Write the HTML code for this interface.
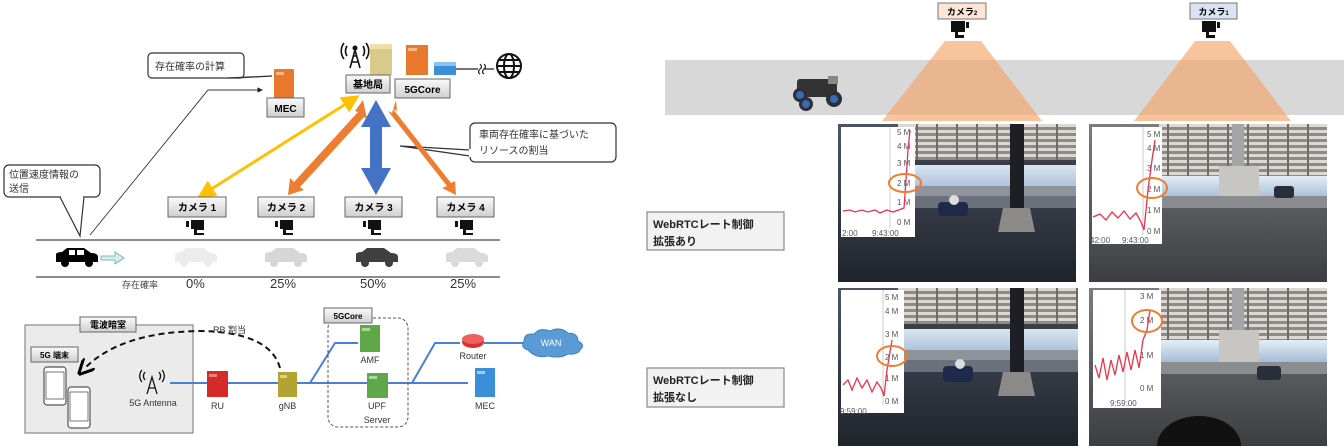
<!DOCTYPE html>
<html><head><meta charset="utf-8"><style>
html,body{margin:0;padding:0;background:#fff;width:1344px;height:447px;overflow:hidden;}
svg{display:block;}
svg text{font-family:"Liberation Sans","Noto Sans CJK JP",sans-serif;}
</style></head><body>
<svg width="1344" height="447" viewBox="0 0 1344 447" xmlns="http://www.w3.org/2000/svg">
<defs>
<linearGradient id="bx" x1="0" y1="0" x2="0" y2="1"><stop offset="0" stop-color="#fafafa"/><stop offset="1" stop-color="#cfcfcf"/></linearGradient>
<linearGradient id="gnd" x1="0" y1="0" x2="0" y2="1"><stop offset="0" stop-color="#4d5564"/><stop offset="1" stop-color="#1f232b"/></linearGradient>
<linearGradient id="gnd2" x1="0" y1="0" x2="0" y2="1"><stop offset="0" stop-color="#7a7c80"/><stop offset="1" stop-color="#3c3d40"/></linearGradient>
<linearGradient id="sky" x1="0" y1="0" x2="0" y2="1"><stop offset="0" stop-color="#e4edf6"/><stop offset="1" stop-color="#a6bdd6"/></linearGradient>
<pattern id="lv" width="20" height="6" patternUnits="userSpaceOnUse"><rect width="20" height="6" fill="#8d8a88"/><rect width="20" height="3" fill="#dcd8d3"/><rect x="18" width="2" height="6" fill="#6e6b68"/></pattern>
<marker id="ay" markerWidth="6" markerHeight="6" refX="3" refY="3" orient="auto-start-reverse"><path d="M0,0L6,3L0,6z" fill="#ffc000"/></marker>
<marker id="dk" markerWidth="8" markerHeight="8" refX="4" refY="4" orient="auto"><path d="M0,0L8,4L0,8" fill="none" stroke="#000" stroke-width="1.5"/></marker>
<marker id="sm" markerWidth="6" markerHeight="6" refX="5" refY="3" orient="auto"><path d="M0,0L6,3L0,6z" fill="#222"/></marker>
<g id="car"><path d="M0,12 L0,6 Q1,4 6,4 L11,0 H28 L35,5 Q42,5 42,9 V14 H0z"/><circle cx="9" cy="15" r="4"/><circle cx="33" cy="15" r="4"/></g>
</defs>

<path d="M152,53 h88 a4,4 0 0 1 4,4 v17 a4,4 0 0 1 -4,4 h-88 a4,4 0 0 1 -4,-4 v-17 a4,4 0 0 1 4,-4z" fill="#fff" stroke="#333" stroke-width="1.2"/>
<path d="M228,78 L272,76 L236,78" fill="#fff" stroke="#333" stroke-width="1.2"/>
<text x="155" y="70" font-size="10" fill="#333">存在確率の計算</text>
<rect x="274" y="69" width="20" height="29" fill="#e8782c" rx="1"/><rect x="276" y="72" width="8" height="3" fill="#f6b884"/>
<rect x="267" y="98" width="37" height="19" fill="url(#bx)" stroke="#666"/><text x="285.5" y="112" font-size="10" font-weight="bold" text-anchor="middle">MEC</text>
<g stroke="#111" stroke-width="1.6" fill="none"><path d="M350,68 L355,50 L360,68 M352,62 h6 M353,56 h4"/><path d="M347,46 a9,9 0 0 0 0,10 M344,43 a13,13 0 0 0 0,16 M363,46 a9,9 0 0 1 0,10 M366,43 a13,13 0 0 1 0,16"/></g><circle cx="355" cy="48" r="2.5" fill="#111"/>
<rect x="370" y="44" width="22" height="31" fill="#d9c98a"/><rect x="370" y="44" width="22" height="5" fill="#ece0a8"/>
<rect x="346" y="75" width="44" height="18" fill="url(#bx)" stroke="#666"/><text x="368" y="88" font-size="10" font-weight="bold" text-anchor="middle">基地局</text>
<rect x="406" y="45" width="22" height="30" fill="#e8782c"/><rect x="408" y="48" width="9" height="3" fill="#f6b884"/>
<rect x="434" y="62" width="22" height="13" fill="#3b8ed8"/><rect x="434" y="62" width="22" height="4" fill="#8cc4f0"/>
<path d="M456,69 H478 M480,64 q3,3 0,5 q-3,3 0,5 M484,64 q3,3 0,5 q-3,3 0,5 M484,69 H494" stroke="#222" stroke-width="1.2" fill="none"/>
<g stroke="#111" stroke-width="2" fill="none"><circle cx="509" cy="66" r="12"/><ellipse cx="509" cy="66" rx="5" ry="12"/><path d="M497,66 h24 M499,60 h20 M499,72 h20"/></g>
<rect x="395" y="79" width="55" height="19" fill="url(#bx)" stroke="#666"/><text x="422.5" y="93" font-size="10" font-weight="bold" text-anchor="middle">5GCore</text>
<rect x="470" y="123" width="146" height="39" rx="5" fill="#fff" stroke="#333" stroke-width="1.2"/>
<path d="M470,150 L400,146 L470,156" fill="#fff" stroke="#333" stroke-width="1.2"/>
<rect x="469" y="149" width="3" height="8" fill="#fff"/>
<text x="479" y="138" font-size="10" fill="#333">車両存在確率に基づいた</text>
<text x="479" y="154" font-size="10" fill="#333">リソースの割当</text>
<rect x="4" y="165" width="96" height="32" rx="5" fill="#fff" stroke="#333" stroke-width="1.2"/>
<path d="M60,197 L80,236 L84,197" fill="#fff" stroke="#333" stroke-width="1.2"/><rect x="61" y="195" width="22" height="3" fill="#fff"/>
<text x="9" y="178" font-size="10" fill="#333">位置速度情報の</text>
<text x="9" y="192" font-size="10" fill="#333">送信</text>
<path d="M90,235 L208,90 L262,90" stroke="#333" stroke-width="0.9" fill="none" marker-end="url(#sm)"/>
<line x1="352" y1="100" x2="205" y2="193" stroke="#ffc000" stroke-width="3" marker-start="url(#ay)" marker-end="url(#ay)"/>
<path d="M363,100 L355,111 L358,112 L294,182 L290,178 L288,195 L304,190 L300,187 L364,117 L367,119z" fill="#ed7d31"/>
<path d="M396,100 L392,113 L388,111 L447,186 L442,188 L456,195 L455,181 L451,183 L393,109 L397,111z" fill="#ed7d31"/>
<path d="M376,100 L361,127 L370,127 L370,168 L361,168 L376,195 L391,168 L382,168 L382,127 L391,127z" fill="#4472c4"/>
<g font-size="10" font-weight="bold" text-anchor="middle">
<rect x="168" y="197" width="58" height="20" fill="url(#bx)" stroke="#666"/><text x="197" y="211">カメラ 1</text>
<rect x="258" y="197" width="56" height="20" fill="url(#bx)" stroke="#666"/><text x="286" y="211">カメラ 2</text>
<rect x="345" y="197" width="57" height="20" fill="url(#bx)" stroke="#666"/><text x="373.5" y="211">カメラ 3</text>
<rect x="437" y="197" width="57" height="20" fill="url(#bx)" stroke="#666"/><text x="465.5" y="211">カメラ 4</text>
</g>
<g fill="#111">
<path d="M186,221 h3 v6 h-3z M191,220 h13 v10 h-7 v3 h7 v2 h-10 v-6 h-3z"/>
<path d="M275,221 h3 v6 h-3z M280,220 h13 v10 h-7 v3 h7 v2 h-10 v-6 h-3z"/>
<path d="M363,221 h3 v6 h-3z M368,220 h13 v10 h-7 v3 h7 v2 h-10 v-6 h-3z"/>
<path d="M455,221 h3 v6 h-3z M460,220 h13 v10 h-7 v3 h7 v2 h-10 v-6 h-3z"/>
</g>
<line x1="36" y1="240" x2="500" y2="240" stroke="#666" stroke-width="1.5"/>
<line x1="36" y1="277" x2="500" y2="277" stroke="#666" stroke-width="1.5"/>
<use href="#car" x="56" y="248" fill="#000"/>
<use href="#car" x="175" y="248" fill="#ececec"/>
<use href="#car" x="265" y="248" fill="#d6d6d6"/>
<use href="#car" x="356" y="248" fill="#3f3f3f"/>
<use href="#car" x="446" y="248" fill="#dadada"/>
<g fill="#fff"><rect x="69" y="250" width="6" height="5"/><rect x="77" y="250" width="7" height="5"/></g>
<path d="M101,256 h14 v-4 l9,6 l-9,6 v-4 h-14z" fill="#d4ecec" stroke="#6aa" stroke-width="0.8"/>
<text x="122" y="288" font-size="9" fill="#444">存在確率</text>
<g font-size="13" fill="#333"><text x="186" y="288">0%</text><text x="270" y="288">25%</text><text x="360" y="288">50%</text><text x="450" y="288">25%</text></g>

<rect x="25" y="325" width="168" height="108" fill="#ebebeb" stroke="#888" stroke-width="1.2"/>
<rect x="80" y="317" width="56" height="15" fill="url(#bx)" stroke="#666"/><text x="108" y="328" font-size="9" font-weight="bold" text-anchor="middle">電波暗室</text>
<rect x="31" y="347" width="47" height="15" fill="url(#bx)" stroke="#666"/><text x="54.5" y="358" font-size="8" font-weight="bold" text-anchor="middle">5G 端末</text>
<g fill="#fff" stroke="#555" stroke-width="1.2"><rect x="44" y="367" width="22" height="38" rx="3"/><rect x="68" y="387" width="22" height="41" rx="3"/></g>
<g fill="none" stroke="#555" stroke-width="0.8"><rect x="46" y="372" width="18" height="27"/><rect x="70" y="392" width="18" height="29"/></g>
<g stroke="#111" stroke-width="1.3" fill="none"><path d="M147,394 L152,377 L157,394 M149,388 h6"/><path d="M145,372 a6,6 0 0 0 0,8 M159,372 a6,6 0 0 1 0,8 M142,370 a9,9 0 0 0 0,12 M162,370 a9,9 0 0 1 0,12"/></g>
<text x="153" y="406" font-size="9" fill="#333" text-anchor="middle">5G Antenna</text>
<path d="M170,383 H207 M228,383 H278 M297,383 H330 M310,383 L335,343 H358 M330,383 H367 M388,383 H468 M412,383 L435,343 H460 M484,343 H524" stroke="#4a7fd8" stroke-width="2" fill="none"/>
<rect x="207" y="371" width="21" height="26" fill="#d42a2a"/><rect x="209" y="374" width="8" height="3" fill="#f08080"/>
<text x="217.5" y="409" font-size="9" fill="#333" text-anchor="middle">RU</text>
<rect x="278" y="372" width="19" height="25" fill="#b3a334"/><rect x="280" y="375" width="7" height="3" fill="#e0d37a"/>
<text x="287.5" y="409" font-size="9" fill="#333" text-anchor="middle">gNB</text>
<rect x="328" y="318" width="80" height="109" rx="10" fill="none" stroke="#555" stroke-dasharray="3,2"/>
<rect x="324" y="308" width="48" height="15" fill="url(#bx)" stroke="#666"/><text x="348" y="319" font-size="8" font-weight="bold" text-anchor="middle">5GCore</text>
<rect x="360" y="325" width="20" height="27" fill="#5ea84a"/><rect x="362" y="328" width="8" height="3" fill="#a8d89a"/>
<text x="370" y="363" font-size="9" fill="#333" text-anchor="middle">AMF</text>
<rect x="367" y="373" width="21" height="25" fill="#5ea84a"/><rect x="369" y="376" width="8" height="3" fill="#a8d89a"/>
<text x="377" y="409" font-size="9" fill="#333" text-anchor="middle">UPF</text>
<text x="377" y="423" font-size="9" fill="#333" text-anchor="middle">Server</text>
<ellipse cx="473" cy="342" rx="11" ry="6" fill="#d93030"/><ellipse cx="473" cy="339" rx="11" ry="5" fill="#f06060"/>
<text x="473" y="359" font-size="9" fill="#333" text-anchor="middle">Router</text>
<path d="M528,350 q-8,-2 -4,-9 q0,-8 10,-7 q6,-7 16,-3 q10,-5 18,2 q10,0 10,8 q8,4 2,9 q-2,5 -12,4 q-8,5 -20,2 q-12,3 -20,-6z" fill="#5b9bd5" stroke="#2e75b6" stroke-width="0.8"/>
<text x="551" y="346" font-size="9" fill="#fff" text-anchor="middle">WAN</text>
<rect x="475" y="368" width="20" height="29" fill="#3b8ed8"/><rect x="477" y="371" width="8" height="3" fill="#9cd0f8"/>
<text x="485" y="409" font-size="9" fill="#333" text-anchor="middle">MEC</text>
<path d="M280,368 Q270,332 200,331 Q120,332 84,369" fill="none" stroke="#111" stroke-width="2" stroke-dasharray="6,4" marker-end="url(#dk)"/>
<text x="213" y="333" font-size="9" fill="#333">RB 割当</text>

<rect x="665" y="60" width="679" height="55" fill="#d8d8d8"/>
<g opacity="0.65" fill="#f5a46a">
<path d="M945,41 H981 L1042,121 H882z"/>
<path d="M1195,41 H1230 L1291,121 H1134z"/>
</g>
<rect x="938" y="3" width="48" height="16" fill="#fbe5d6" stroke="#777"/><text x="962" y="15" font-size="9" font-weight="bold" text-anchor="middle">カメラ<tspan font-size="6">2</tspan></text>
<rect x="1190" y="3" width="47" height="16" fill="#dae3f3" stroke="#777"/><text x="1213.5" y="15" font-size="9" font-weight="bold" text-anchor="middle">カメラ<tspan font-size="6">1</tspan></text>
<g fill="#111">
<path d="M951,21 h14 v11 h-7 v3 h6 v3 h-9 v-6 h-4z M966,22 h3 v6 h-3z"/>
<path d="M1202,21 h14 v11 h-7 v3 h6 v3 h-9 v-6 h-4z M1217,22 h3 v6 h-3z"/>
</g>
<rect x="797" y="79" width="40" height="18" rx="3" fill="#333"/><rect x="828" y="76" width="10" height="8" fill="#888"/>
<circle cx="800" cy="95" r="7" fill="#2a2f3a"/><circle cx="800" cy="95" r="4" fill="#3a6bb0"/>
<circle cx="834" cy="99" r="8" fill="#2a2f3a"/><circle cx="834" cy="99" r="4" fill="#3a6bb0"/>
<circle cx="806" cy="104" r="7" fill="#2a2f3a"/><circle cx="806" cy="104" r="4" fill="#3a6bb0"/>
<rect x="647" y="212" width="137" height="38" fill="#f2f2f2" stroke="#888" stroke-width="1.2"/>
<text x="653" y="228" font-size="11" font-weight="bold" fill="#222">WebRTCレート制御</text>
<text x="653" y="245" font-size="11" font-weight="bold" fill="#222">拡張あり</text>
<rect x="647" y="368" width="137" height="39" fill="#f2f2f2" stroke="#888" stroke-width="1.2"/>
<text x="653" y="384" font-size="11" font-weight="bold" fill="#222">WebRTCレート制御</text>
<text x="653" y="401" font-size="11" font-weight="bold" fill="#222">拡張なし</text>

<g transform="translate(838,124)">
<rect x="0" y="0" width="238" height="158" fill="url(#gnd)"/>
<rect x="60" y="36" width="178" height="30" fill="url(#sky)"/>
<rect x="60" y="0" width="178" height="38" fill="url(#lv)"/>
<rect x="60" y="36" width="178" height="5" fill="#3c3f47"/>
<rect x="60" y="62" width="178" height="10" fill="#8f939c"/>
<rect x="60" y="72" width="178" height="12" fill="#6a707c"/>
<rect x="172" y="0" width="14" height="90" fill="#1d1f25"/>
<path d="M165,84 h27 l5,24 h-37z" fill="#8c8a88"/>
<rect x="100" y="78" width="30" height="14" rx="4" fill="#1e2a4a"/><circle cx="116" cy="76" r="5" fill="#ddd"/>
</g>
<g transform="translate(838,288)">
<rect x="0" y="0" width="240" height="158" fill="url(#gnd)"/>
<rect x="60" y="36" width="180" height="30" fill="url(#sky)"/>
<rect x="60" y="0" width="180" height="38" fill="url(#lv)"/>
<rect x="60" y="36" width="180" height="5" fill="#3c3f47"/>
<rect x="60" y="62" width="180" height="10" fill="#8f939c"/>
<rect x="60" y="72" width="180" height="12" fill="#6a707c"/>
<rect x="172" y="0" width="14" height="90" fill="#1d1f25"/>
<path d="M165,84 h27 l5,24 h-37z" fill="#8c8a88"/>
<rect x="105" y="78" width="30" height="16" rx="4" fill="#1e2a4a"/><circle cx="122" cy="76" r="5" fill="#ddd"/>
</g>
<g transform="translate(1089,124)"><rect width="238" height="158" fill="url(#gnd2)"/><rect x="70" y="0" width="168" height="52" fill="url(#lv)"/><rect x="70" y="52" width="168" height="22" fill="url(#sky)"/><rect x="143" y="0" width="12" height="45" fill="#a5a5a8"/><rect x="130" y="42" width="40" height="38" fill="#c8c6c2"/><rect x="70" y="72" width="168" height="12" fill="#8a8c90"/><rect x="185" y="62" width="20" height="12" rx="3" fill="#2a2e3a"/></g>
<g transform="translate(1089,288)"><rect width="238" height="158" fill="url(#gnd2)"/><rect x="70" y="0" width="168" height="52" fill="url(#lv)"/><rect x="70" y="52" width="168" height="22" fill="url(#sky)"/><rect x="143" y="0" width="12" height="45" fill="#a5a5a8"/><rect x="130" y="42" width="40" height="38" fill="#c8c6c2"/><rect x="70" y="74" width="168" height="12" fill="#8a8c90"/><rect x="168" y="78" width="24" height="14" rx="3" fill="#2a2e3a"/><path d="M68,158 A42,30 0 0 1 152,158 Z" fill="#111"/></g>

<g font-size="8" fill="#555">
<rect x="841" y="127" width="74" height="110" fill="#fff"/>
<line x1="890" y1="127" x2="890" y2="228" stroke="#ccc"/>
<text x="897" y="135">5 M</text><text x="897" y="149">4 M</text><text x="897" y="166">3 M</text><text x="897" y="186">2 M</text><text x="897" y="205">1 M</text><text x="897" y="225">0 M</text>
<text x="842" y="236">2:00</text><text x="872" y="236">9:43:00</text>
<path d="M843,211 L850,210 L855,212 L862,210 L868,212 L875,210 L880,213 L887,210 L893,212 L904,208 L906,180 L908,150 L910,130" stroke="#e8344c" stroke-width="1.3" fill="none"/>
<ellipse cx="905" cy="183" rx="16" ry="9" fill="none" stroke="#ed7d31" stroke-width="2"/>

<rect x="1092" y="127" width="70" height="117" fill="#fff"/>
<line x1="1143" y1="127" x2="1143" y2="235" stroke="#ccc"/>
<text x="1147" y="137">5 M</text><text x="1147" y="151">4 M</text><text x="1147" y="171">3 M</text><text x="1147" y="192">2 M</text><text x="1147" y="213">1 M</text><text x="1147" y="234">0 M</text>
<text x="1090" y="243">42:00</text><text x="1122" y="243">9:43:00</text>
<path d="M1093,217 L1100,214 L1106,220 L1112,212 L1118,218 L1124,211 L1130,219 L1136,213 L1141,222 L1144,230 L1148,190 L1152,160 L1155,140" stroke="#e8344c" stroke-width="1.3" fill="none"/>
<ellipse cx="1152" cy="188" rx="15" ry="10" fill="none" stroke="#ed7d31" stroke-width="2"/>

<rect x="841" y="290" width="63" height="123" fill="#fff"/>
<line x1="883" y1="290" x2="883" y2="405" stroke="#ccc"/>
<text x="885" y="300">5 M</text><text x="885" y="314">4 M</text><text x="885" y="337">3 M</text><text x="885" y="360">2 M</text><text x="885" y="381">1 M</text><text x="885" y="404">0 M</text>
<text x="840" y="414">9:59:00</text>
<path d="M843,385 L848,380 L852,390 L857,378 L862,388 L867,380 L872,392 L877,382 L881,388 L884,396 L887,370 L892,340" stroke="#e8344c" stroke-width="1.3" fill="none"/>
<ellipse cx="892" cy="356" rx="15" ry="10" fill="none" stroke="#ed7d31" stroke-width="2"/>

<rect x="1093" y="290" width="68" height="118" fill="#fff"/>
<line x1="1125" y1="290" x2="1125" y2="400" stroke="#ccc"/>
<text x="1140" y="299">3 M</text><text x="1140" y="323">2 M</text><text x="1140" y="358">1 M</text><text x="1140" y="391">0 M</text>
<text x="1110" y="406">9:59:00</text>
<path d="M1095,365 L1099,378 L1103,358 L1107,380 L1111,360 L1115,375 L1119,355 L1123,372 L1127,352 L1131,370 L1135,350 L1139,368 L1143,340 L1147,330 L1150,310" stroke="#e8344c" stroke-width="1.3" fill="none"/>
<ellipse cx="1147" cy="321" rx="15" ry="11" fill="none" stroke="#ed7d31" stroke-width="2"/>
</g>
</svg>
</body></html>
